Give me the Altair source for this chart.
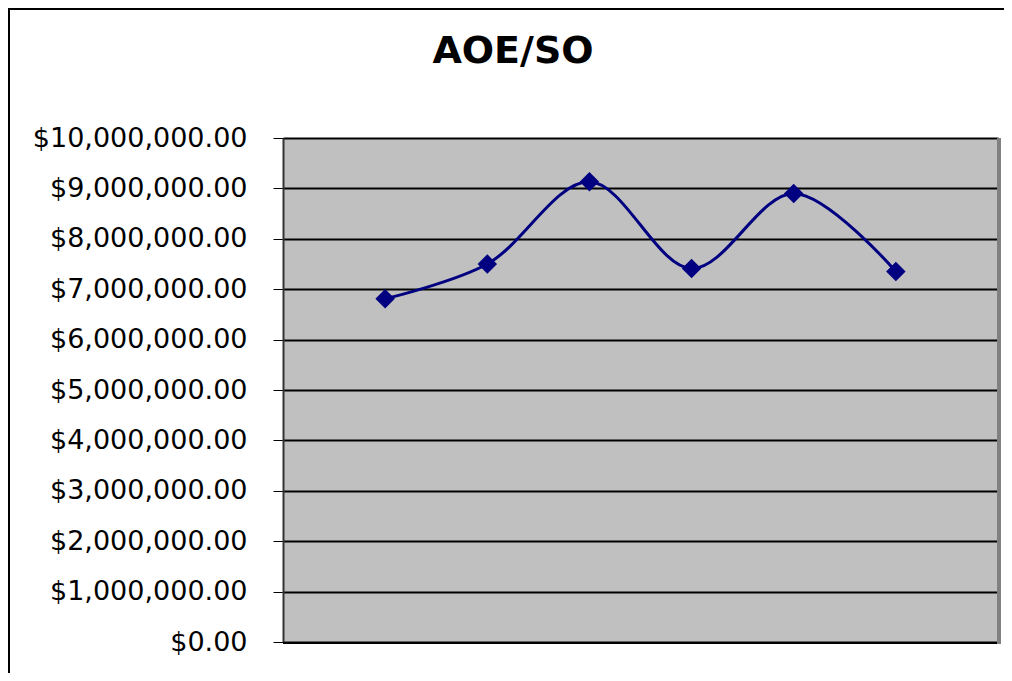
import altair as alt
import pandas as pd

categories = ["1", "2", "3", "4", "5", "6"]
values = [6810000, 7500000, 9130000, 7410000, 8900000, 7350000]
y_ticks = [0, 1000000, 2000000, 3000000, 4000000, 5000000, 6000000, 7000000, 8000000, 9000000, 10000000]
title_text = "AOE/SO"

df = pd.DataFrame({"cat": categories, "value": values})

W, H = 715, 504
FONT = "DejaVu Sans"

x_enc = alt.X("cat:O", scale=alt.Scale(type="point", padding=1), axis=None, sort=categories)
y_enc = alt.Y(
    "value:Q",
    scale=alt.Scale(domain=[0, 10000000], nice=False, zero=True),
    axis=alt.Axis(
        values=y_ticks,
        format="$,.2f",
        title=None,
        labelFont=FONT,
        labelFontSize=27,
        labelColor="black",
        labelLimit=0,
        labelPadding=26,
        tickSize=10,
        tickColor="black",
        tickWidth=1,
        domainColor="#333333",
        domainWidth=2,
        grid=True,
        gridColor="black",
        gridWidth=2,
    ),
)

base = alt.Chart(df)

line = base.mark_line(color="#000080", strokeWidth=3, interpolate="catmull-rom").encode(x=x_enc, y=y_enc)
points = base.mark_point(shape="diamond", filled=True, color="#000080", size=380, opacity=1).encode(x=x_enc, y=y_enc)

bottom = base.mark_rule(color="black", strokeWidth=2).encode(
    x=alt.value(0), x2=alt.value(W), y=alt.value(H + 1)
)
right = base.mark_rule(color="#808080", strokeWidth=3).encode(
    x=alt.value(W + 1), y=alt.value(0), y2=alt.value(H + 2)
)

title = alt.Chart(pd.DataFrame({"t": [title_text]})).mark_text(
    font=FONT, fontSize=38, fontWeight="bold", color="black", align="center", baseline="alphabetic"
).encode(text="t:N", x=alt.value(230), y=alt.value(-75))

frame = alt.Chart(pd.DataFrame({"t": [0]})).mark_rect(
    fill=None, stroke="black", strokeWidth=2
).encode(x=alt.value(-274), y=alt.value(-129), x2=alt.value(760), y2=alt.value(600))

chart = alt.layer(frame, title, line, points, bottom, right).properties(
    width=W,
    height=H,
    background="white",
    autosize=alt.AutoSizeParams(type="none"),
    padding={"left": 275, "top": 130, "right": 6, "bottom": 31},
).configure_view(
    fill="#C0C0C0", stroke="#808080", strokeWidth=1
)

chart.save("out.html", embed_options={"renderer": "svg", "actions": False})
